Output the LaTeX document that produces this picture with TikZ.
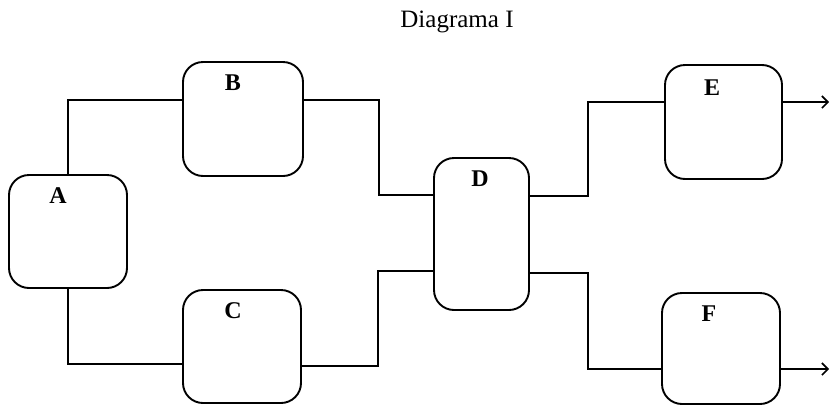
\documentclass[tikz,border=0pt]{standalone}
\usepackage{fontspec}
\setmainfont{Liberation Serif}
\usetikzlibrary{arrows.meta}
\begin{document}
\begin{tikzpicture}[x=1pt,y=-1pt,
  box/.style={draw, line width=1.9pt, rounded corners=20pt, inner sep=0pt, minimum width=#1},
  box/.default=118pt,
  lbl/.style={font=\bfseries\fontsize{24}{26}\selectfont, anchor=base, inner sep=0pt},
  wire/.style={line width=1.6pt},
  outarrow/.style={line width=1.6pt, -{Straight Barb[length=6pt,width=12pt,line width=1.6pt]}}]
\useasboundingbox (0,0) rectangle (830,405);
\fill[white] (0,0) rectangle (830,405);
% title
\node[font=\fontsize{25}{27}\selectfont, inner sep=0pt] (title) at (457,22) {Diagrama I};
% boxes
\node[box=118pt, minimum height=113pt] (A) at (68,231.5) {};
\node[box=120pt, minimum height=114pt] (B) at (243,119) {};
\node[box=118pt, minimum height=113pt] (C) at (242,346.5) {};
\node[box=95pt,  minimum height=152pt] (D) at (481.5,234) {};
\node[box=117pt, minimum height=114pt] (E) at (723.5,122) {};
\node[box=118pt, minimum height=111pt] (F) at (721,348.5) {};
% labels
\node[lbl] (Al) at (58,203) {A};
\node[lbl] (Bl) at (233,90) {B};
\node[lbl] (Cl) at (233,318) {C};
\node[lbl] (Dl) at (480,186) {D};
\node[lbl] (El) at (712,95) {E};
\node[lbl] (Fl) at (709,321) {F};
% connectors
\draw[wire] (A.north) |- ([yshift=19pt]B.west);
\draw[wire] (A.south) |- ([yshift=-17.5pt]C.west);
\draw[wire] ([yshift=19pt]B.east) -- ++(75,0) |- ([yshift=39pt]D.west);
\draw[wire] ([yshift=-19.5pt]C.east) -- ++(76,0) |- ([yshift=-37pt]D.west);
\draw[wire] ([yshift=38pt]D.east) -- ++(58,0) |- ([yshift=20pt]E.west);
\draw[wire] ([yshift=-39pt]D.east) -- ++(58,0) |- ([yshift=-20.5pt]F.west);
% outputs
\coordinate (outE) at (829,102);
\coordinate (outF) at (829,369);
\draw[outarrow] ([yshift=20pt]E.east) -- (outE);
\draw[outarrow] ([yshift=-20.5pt]F.east) -- (outF);
\end{tikzpicture}
\end{document}
